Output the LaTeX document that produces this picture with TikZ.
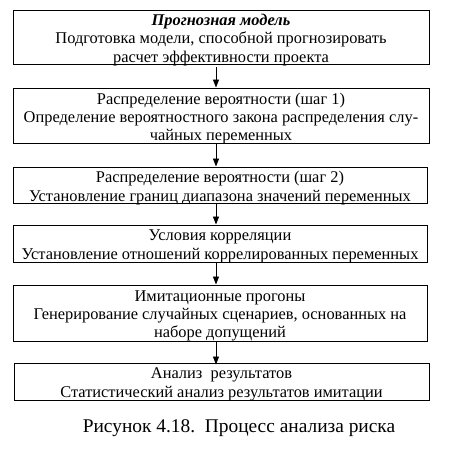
\documentclass[tikz,border=0pt]{standalone}
\usepackage{fontspec}
\setmainfont{Liberation Serif}
\usetikzlibrary{arrows.meta}
\begin{document}
\begin{tikzpicture}[x=1pt,y=-1pt,
  box/.style={draw,line width=0.9pt,minimum width=416pt,inner sep=0pt},
  txt/.style={inner sep=0pt,align=center,yshift=-3pt,font=\fontsize{16.4}{18.3}\selectfont},
  arr/.style={-{Triangle[length=8pt,width=6pt]},line width=0.9pt}]
\useasboundingbox (0,0) rectangle (451,449);
\node[box,minimum height=54pt,label={[txt]center:\textbf{\textit{Прогнозная модель}}\\Подготовка модели, способной прогнозировать\\расчет эффективности проекта}] (b1) at (221,37) {};
\node[box,minimum height=55pt,label={[txt]center:Распределение вероятности (шаг 1)\\Определение вероятностного закона распределения слу-\\чайных переменных}] (b2) at (221,115.5) {};
\node[box,minimum height=36pt,minimum width=414pt,label={[txt]center:Распределение вероятности (шаг 2)\\Установление границ диапазона значений переменных}] (b3) at (220,185) {};
\node[box,minimum height=37pt,minimum width=414pt,label={[txt]center:Условия корреляции\\Установление отношений коррелированных переменных}] (b4) at (220,243.5) {};
\node[box,minimum height=56pt,minimum width=414pt,label={[txt]center:Имитационные прогоны\\Генерирование случайных сценариев, основанных на\\наборе допущений}] (b5) at (220,313) {};
\node[box,minimum height=37pt,minimum width=415pt,label={[txt]center:Анализ\ \ результатов\\Статистический анализ результатов имитации}] (b6) at (221.5,381.5) {};
\node[font=\fontsize{19.4}{22}\selectfont,inner sep=0pt] (cap) at (239,428) {Рисунок 4.18.\ \ Процесс анализа риска};
\coordinate (ax) at (216,0);
\draw[arr] (b1.south -| ax) ++(0,3) -- (b2.north -| ax);
\draw[arr] (b2.south -| ax) -- (b3.north -| ax);
\draw[arr] (b3.south -| ax) -- (b4.north -| ax);
\draw[arr] (b4.south -| ax) -- (b5.north -| ax);
\draw[arr] (b5.south -| ax) -- ([yshift=-2pt]b6.north -| ax);
\end{tikzpicture}
\end{document}
